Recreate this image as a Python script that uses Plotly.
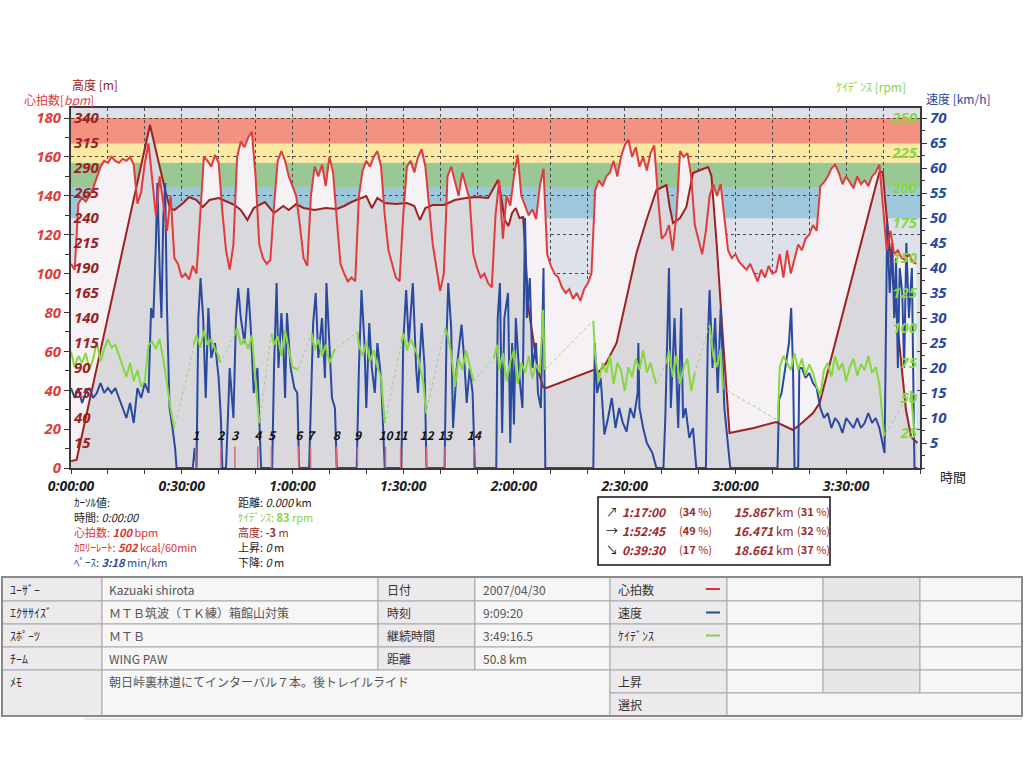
import plotly.graph_objects as go

# ---------------- data ----------------
hr_time = list(range(0, 230))
hr_bpm = [105, 102, 136, 139, 137, 140, 144, 150, 155, 158,
          157, 160, 158, 157, 159, 158, 160, 156, 136, 142,
          157, 167, 148, 130, 150, 135, 122, 140, 108, 105,
          98, 100, 97, 104, 100, 130, 160, 158, 155, 161,
          157, 132, 112, 102, 115, 160, 168, 165, 170, 173,
          150, 115, 108, 105, 107, 135, 158, 163, 158, 150,
          145, 140, 125, 108, 104, 140, 155, 150, 156, 145,
          160, 152, 128, 105, 100, 96, 98, 96, 140, 153,
          158, 155, 160, 163, 155, 130, 112, 105, 98, 96,
          130, 155, 158, 152, 160, 164, 155, 135, 115, 103,
          91, 100, 150, 155, 148, 140, 152, 145, 138, 110,
          103, 98, 100, 95, 93, 130, 148, 118, 140, 135,
          150, 161, 140, 135, 130, 133, 128, 145, 154, 110,
          104, 100, 98, 93, 90, 92, 87, 90, 86, 92,
          95, 100, 143, 148, 145, 150, 152, 158, 150, 160,
          166, 169, 160, 165, 155, 160, 153, 162, 166, 140,
          118, 120, 125, 112, 130, 163, 160, 162, 150, 125,
          118, 110, 122, 140, 146, 140, 146, 130, 112, 108,
          110, 106, 104, 102, 105, 100, 96, 102, 98, 104,
          100, 101, 110, 98, 112, 100, 108, 115, 112, 118,
          120, 125, 122, 145, 147, 150, 154, 156, 152, 146,
          150, 147, 144, 150, 146, 148, 145, 150, 152, 156,
          135, 112, 122, 110, 112, 108, 107, 110, 106, 105]

alt_time = [0, 1.5, 21.4, 22.5, 24, 25.5, 26.8, 28, 30.4, 32, 34, 35.7, 37.5, 40, 42.5, 44.3,
            46, 47.8, 49.5, 52.5, 55, 57.5, 59, 61, 63, 66, 69, 72, 74, 76, 78, 80, 81.5,
            83, 85, 88, 91, 93, 94.5, 96, 98, 101, 104, 107, 110, 113, 114.5, 115.7, 116.5,
            117.5, 118.5, 119.5, 120.5, 121.5, 122.5, 124, 126.5, 127.9, 128.8, 133, 137,
            141.5, 143, 145, 147.8, 150.5, 153.2, 155.9, 158.6, 161.3, 162.2, 163.1, 165,
            166.7, 168.5, 170.5, 172.6, 173.5, 174.9, 176.7, 178.4, 181, 185, 191, 193.8,
            195.6, 198, 201, 202.8, 219, 219.9, 220.8, 222.6, 224.4, 226.2, 227.6, 229.3]
alt_m = [-3, -2, 333, 315, 290, 268, 250, 248, 255, 261, 258, 251, 258, 260, 256, 253,
         248, 238, 250, 256, 245, 252, 248, 254, 250, 248, 250, 249, 252, 256, 259, 262, 250,
         260, 255, 254, 255, 252, 238, 250, 253, 253, 258, 260, 261, 260, 270, 278, 262,
         238, 232, 245, 250, 240, 241, 148, 88, 71, 70, 76, 82,
         88, 86, 95, 115, 161, 205, 238, 268, 273, 251, 235, 240,
         251, 285, 288, 291, 282, 215, 115, 25, 27, 30, 36, 31,
         28, 35, 45, 55, 286, 286, 248, 181, 115, 48, 21, 15]

spd_time = [0, 1, 2, 3, 4, 5, 6, 7, 8, 9, 10, 11, 12, 13, 14, 15, 16, 17, 18, 19, 20, 21,
            21.7, 22.3, 23, 23.4, 24, 24.5, 25, 25.5, 26, 26.7, 27.5, 28.2, 28.6, 33, 33.5, 34,
            34.5, 35.1, 35.8, 36.5, 37.2, 38, 39, 40, 40.6, 41, 42, 42.5, 43, 44, 44.7, 45.3,
            46, 47, 48, 48.7, 49.5, 50.5, 51.2, 51.5, 54.5, 55, 55.7, 56.2, 57, 57.5, 58, 58.5,
            59.5, 60.5, 61.3, 61.8, 64.5, 65, 65.6, 66.3, 67, 68, 68.8, 69.2, 70, 70.7, 71.5, 72,
            77.4, 78, 78.7, 79.5, 80, 80.8, 81.5, 82.3, 83, 84, 85, 89.5, 90, 90.8, 91.5, 92.6,
            93.5, 94, 95, 95.8, 96.3, 101.2, 101.7, 102.2, 103, 103.5, 104.5, 105.8, 106.5,
            107.2, 108, 108.8, 109.4, 115.2, 115.6, 116.2, 116.8, 117.4, 118.4, 119, 119.5, 120,
            120.5, 121.5, 122.3, 123, 123.5, 124.3, 125, 126, 126.5, 127.3, 128, 128.5, 141.5,
            141.9, 142.5, 143.5, 144.5, 145.5, 146.5, 147.5, 148.5, 149.5, 150.5, 151.5, 152.5,
            153.5, 153.7, 154, 155, 156, 157.5, 158.6, 160.5, 161, 162, 162.5, 163.5, 164.5,
            165.3, 165.8, 166.5, 167.5, 168.5, 169.4, 172, 172.5, 173, 173.8, 174.5, 175.2, 176,
            177, 178.6, 191.4, 191.8, 192.5, 193.5, 194.5, 195.1, 195.6, 196, 197, 197.3, 198,
            199, 200, 201, 202, 203, 204, 205, 206, 207, 208, 209, 210, 211, 212, 213, 214, 215,
            216, 217, 218, 219, 220.4, 221.1, 221.8, 222.5, 223, 223.5, 224, 224.5, 225.2,
            225.7, 226.3, 227, 227.8, 228.5, 229.3]
spd_kmh = [16, 14, 16, 13, 15, 16, 14, 15, 17, 15, 16, 15, 16, 14, 12, 10, 13, 9, 16, 14, 17, 15,
           32, 30, 45, 57, 40, 30, 50, 57, 32, 12, 8, 4, 0, 0, 4, 0,
           30, 38, 30, 14, 32, 22, 25, 18, 10, 0, 0, 12, 20, 10, 30, 36,
           30, 25, 36, 28, 15, 20, 4, 0, 0, 20, 37, 20, 31, 25, 14, 31,
           20, 16, 15, 0, 0, 15, 29, 35, 22, 30, 18, 37, 25, 14, 12, 0,
           0, 20, 35.6, 25, 12, 29, 20, 15, 25, 18, 0, 0, 25, 35.6, 25, 37,
           20, 15, 29, 20, 0, 0, 25, 37, 28, 8, 20, 28.7, 22,
           13, 20, 15, 0, 0, 30, 37, 7, 30, 35, 5, 25, 8.7,
           30, 18, 12, 50, 30, 38, 20, 25, 15, 12, 40, 0, 0,
           25, 15, 18, 6.7, 10, 14, 8, 12, 9, 7.3, 12, 10,
           15, 25, 12, 8, 5, 3, 0, 0, 10, 40, 12, 30, 8,
           32, 10, 12, 6, 8, 0, 0, 25, 35.6, 20, 30, 15, 32,
           12, 0, 0, 13.6, 15, 20, 25, 32, 20, 0, 0, 20, 20,
           18, 19, 17, 16, 12, 10, 11, 8, 10, 9, 7, 10, 9, 8, 10, 8, 9,
           11, 9, 10, 8, 3, 49, 35, 45, 30, 42, 20, 40, 35,
           20, 45, 30, 40, 0, 0]

cad_time = [0, 1, 2, 3, 4, 5, 6, 7, 8, 9, 10, 11, 12, 13, 14, 15, 16, 17, 18, 19, 20, 21, 22,
            23, 24, 25, 26, 27, 28, 28.5,
            33.2, 34, 35, 36, 37, 38, 39, 40, 40.4, 40.6,
            44.4, 45, 46, 47, 48, 49, 50, 51, 51.2,
            54.3, 55, 56, 57, 58, 59, 60, 61.5, 61.7,
            65.2, 66, 67, 68, 69, 70, 71.5, 71.9,
            77.6, 78, 79, 80, 81, 82, 83, 84, 85, 85.2,
            89.5, 90, 91, 92, 93, 94, 95.5, 96.2, 96.3,
            101.3, 102, 103, 104, 105, 106, 107, 108, 109, 109.4,
            114.5, 115.5, 116, 117, 118, 119, 120, 121, 122, 123, 124, 125, 126, 127, 127.9,
            128.3, 128.5,
            141.5, 142, 143, 144, 145, 146, 147, 148, 149, 150, 151, 152, 153, 154, 155, 156,
            157, 158.5, 158.8,
            161.3, 162, 163, 164, 165, 166, 167, 168, 169, 169.5,
            173, 174, 175, 176, 176.6, 176.8,
            191.5, 192, 193, 194, 195, 196, 197, 198, 199, 200, 201, 202, 203, 204, 205, 206,
            207, 208, 209, 210, 211, 212, 213, 214, 215, 216, 217, 218, 219, 220.3, 220.6,
            227.5, 228, 228.5]
cad_rpm = [83, 72, 80, 75, 82, 70, 78, 90, 76, 85, 92, 86, 88, 80, 72, 65, 75, 62, 70, 58, 62, 88, 90,
           85, 92, 78, 60, 42, 28, None,
           88, 95, 86, 98, 88, 92, 85, 80, 75, None,
           95, 100, 88, 92, 85, 95, 62, 32, None,
           96, 88, 94, 80, 98, 86, 72, 70, None,
           96, 84, 92, 80, 88, 75, 85, None,
           97, 88, 80, 90, 76, 84, 72, 65, 32, None,
           90, 96, 84, 92, 86, 80, 60, 39, None,
           100, 95, 82, 58, 78, 70, 84, 72, 62, None,
           78, 88, 70, 82, 62, 76, 84, 60, 75, 68, 80, 64, 74, 68, 113,
           70, None,
           105, 80, 62, 75, 68, 80, 60, 75, 70, 55, 72, 65, 78, 70, 84, 68,
           75, 60, None,
           75, 84, 65, 80, 60, 72, 78, 55, 68, None,
           102, 80, 72, 85, 57, None,
           34, 72, 80, 75, 70, 82, 70, 78, 66, 74, 68, 58, 52, 70, 75, 65,
           80, 70, 75, 62, 72, 78, 66, 74, 70, 80, 68, 72, 60, 23, None,
           55, 40, 25]

lap_time = [33.8, 40.6, 44.4, 50.6, 54.3, 61.7, 64.9, 71.9, 77.6, 85.2, 89.3, 96.3, 101.3, 109.1]
lap_label = ["1", "2", "3", "4", "5", "6", "7", "8", "9", "10", "11", "12", "13", "14"]

time_ticks = [0, 30, 60, 90, 120, 150, 180, 210]
time_labels = ["0:00:00", "0:30:00", "1:00:00", "1:30:00", "2:00:00", "2:30:00", "3:00:00", "3:30:00"]
hr_ticks = [0, 20, 40, 60, 80, 100, 120, 140, 160, 180]
alt_ticks = [15, 40, 65, 90, 115, 140, 165, 190, 215, 240, 265, 290, 315, 340]
cad_ticks = [25, 50, 75, 100, 125, 150, 175, 200, 225, 250]
spd_ticks = [5, 10, 15, 20, 25, 30, 35, 40, 45, 50, 55, 60, 65, 70]

zone_low = [128.5, 144.5, 157, 167]
zone_high = [144.5, 157, 167, 180]
zone_color = ["#9dc8dc", "#9ac894", "#fbe8a2", "#f49282"]

cursor_col1 = ["ｶｰｿﾙ値:", "時間: <i>0:00:00</i>", "心拍数: <b><i>100</i></b> bpm",
               "ｶﾛﾘｰﾚｰﾄ: <b><i>502</i></b> kcal/60min", "ﾍﾟｰｽ: <b><i>3:18</i></b> min/km"]
cursor_col1_color = ["#222222", "#222222", "#e03030", "#e03030", "#2a4a9a"]
cursor_col2 = ["距離: <i>0.000</i> km", "ｹｲﾃﾞﾝｽ: <b>83</b> rpm", "高度: <b>-3</b> m",
               "上昇: <i>0</i> m", "下降: <i>0</i> m"]
cursor_col2_color = ["#222222", "#86d040", "#a02828", "#222222", "#222222"]

stat_arrow = ["↗", "→", "↘"]
stat_time = ["1:17:00", "1:52:45", "0:39:30"]
stat_time_pct = ["34", "49", "17"]
stat_dist = ["15.867", "16.471", "18.661"]
stat_dist_pct = ["31", "32", "37"]

tbl_label1 = ["ﾕｰｻﾞｰ", "ｴｸｻｻｲｽﾞ", "ｽﾎﾟｰﾂ", "ﾁｰﾑ", "ﾒﾓ"]
tbl_value1 = ["Kazuaki shirota", "ＭＴＢ筑波（ＴＫ練）箱館山対策", "ＭＴＢ", "WING PAW",
              "朝日峠裏林道にてインターバル７本。後トレイルライド"]
tbl_label2 = ["日付", "時刻", "継続時間", "距離"]
tbl_value2 = ["2007/04/30", "9:09:20", "3:49:16.5", "50.8 km"]
tbl_label3 = ["心拍数", "速度", "ｹｲﾃﾞﾝｽ", "", "上昇", "選択"]
tbl_legend_color = ["#e03030", "#2a4a9a", "#86d040"]

# ---------------- layout helpers (pixel -> paper) ----------------
L, R, T, B = 71, 920, 108, 468
def px(x):
    return (x - L) / (R - L)
def py(y):
    return (B - y) / (B - T)

JP = "Noto Sans CJK JP, Noto Sans, sans-serif"
HR_C = "#e03c3c"
ALT_C = "#9c2222"
SPD_C = "#2a4a9f"
CAD_C = "#86d840"
GRID_DASH = "3px,3px"

fig = go.Figure()

# HR fill (base axis)
fig.add_trace(go.Scatter(x=hr_time, y=hr_bpm, mode="lines", line=dict(width=0),
                         fill="tozeroy", fillcolor="#f6f1f5", hoverinfo="skip", yaxis="y"))
# altitude
alt_floor = [-10 for _ in alt_time]
fig.add_trace(go.Scatter(x=alt_time, y=alt_floor, mode="lines", line=dict(width=0),
                         hoverinfo="skip", yaxis="y2"))
fig.add_trace(go.Scatter(x=alt_time, y=alt_m, mode="lines", line=dict(color=ALT_C, width=2),
                         fill="tonexty", fillcolor="#d9d8dc", yaxis="y2"))
# speed
fig.add_trace(go.Scatter(x=spd_time, y=spd_kmh, mode="lines", line=dict(color=SPD_C, width=2),
                         yaxis="y3"))
# cadence (dotted across gaps + solid)
fig.add_trace(go.Scatter(x=cad_time, y=cad_rpm, mode="lines", connectgaps=True,
                         line=dict(color="#9fcf7a", width=1, dash="dot"), yaxis="y4"))
fig.add_trace(go.Scatter(x=cad_time, y=cad_rpm, mode="lines", connectgaps=False,
                         line=dict(color=CAD_C, width=2), yaxis="y4"))
# HR line on top
fig.add_trace(go.Scatter(x=hr_time, y=hr_bpm, mode="lines", line=dict(color=HR_C, width=2),
                         yaxis="y5"))
# lap markers
lx, ly = [], []
for t in lap_time:
    lx += [t, t, None]
    ly += [0, 11, None]
fig.add_trace(go.Scatter(x=lx, y=ly, mode="lines", line=dict(color="#d86878", width=1.5),
                         yaxis="y5", hoverinfo="skip"))
fig.add_trace(go.Scatter(x=lap_time, y=[16 for _ in lap_time], mode="text", text=lap_label,
                         textfont=dict(family=JP, size=12, color="#111111", style="italic", weight="bold"),
                         yaxis="y5", hoverinfo="skip"))

shapes = []
for lo, hi, c in zip(zone_low, zone_high, zone_color):
    shapes.append(dict(type="rect", xref="x domain", yref="y", x0=0, x1=1, y0=lo, y1=hi,
                       fillcolor=c, line=dict(width=0), layer="below"))

annotations = []
def txt(x, y, s, color="#222222", size=12, anchor="left", yanchor="middle", **kw):
    annotations.append(dict(xref="paper", yref="paper", x=px(x), y=py(y), text=s, showarrow=False,
                            xanchor=anchor, yanchor=yanchor,
                            font=dict(family=JP, size=size, color=color, **kw)))

# axis titles
txt(70, 84, "高度 [m]", ALT_C, 12)
txt(22, 99, "心拍数[<i>bpm</i>]", HR_C, 12)
txt(834, 86, "ｹｲﾃﾞﾝｽ [rpm]", CAD_C, 12)
txt(924, 98, "速度 [km/h]", SPD_C, 12)
txt(938, 476, "時間", "#222222", 13)

# cursor info
for i, (s, c) in enumerate(zip(cursor_col1, cursor_col1_color)):
    txt(72, 502 + 15 * i, s, c, 11)
for i, (s, c) in enumerate(zip(cursor_col2, cursor_col2_color)):
    txt(236, 502 + 15 * i, s, c, 11)

# stats box
shapes.append(dict(type="rect", xref="paper", yref="paper", x0=px(598), x1=px(830),
                   y0=py(497), y1=py(565), fillcolor="white", line=dict(color="#111111", width=1.5)))
for i in range(3):
    yy = 511 + 19 * i
    txt(604, yy, stat_arrow[i], "#111111", 12)
    txt(620, yy, "<b><i>" + stat_time[i] + "</i></b>", "#a02828", 12)
    txt(677, yy, "(<b>" + stat_time_pct[i] + "</b> %)", "#a02828", 11)
    txt(732, yy, "<b><i>" + stat_dist[i] + "</i></b> km", "#a02828", 12)
    txt(795, yy, "(<b>" + stat_dist_pct[i] + "</b> %)", "#a02828", 11)

# table
cols = [2, 102, 378, 475, 610, 727, 823, 920, 1022]
rows = [577, 601, 624, 647, 670, 693, 716]
LAB = "#eceaec"
VAL = "#f6f6f6"
MID = "#e8e6e8"
GRID = "#a8a8a8"
def cell(x0, x1, y0, y1, color):
    shapes.append(dict(type="rect", xref="paper", yref="paper", x0=px(x0), x1=px(x1),
                       y0=py(y0), y1=py(y1), fillcolor=color, line=dict(color=GRID, width=1)))
for r in range(4):
    cell(cols[0], cols[1], rows[r], rows[r + 1], LAB)
    cell(cols[1], cols[2], rows[r], rows[r + 1], VAL)
    cell(cols[2], cols[3], rows[r], rows[r + 1], LAB)
    cell(cols[3], cols[4], rows[r], rows[r + 1], VAL)
cell(cols[0], cols[1], rows[4], rows[6], LAB)
cell(cols[1], cols[4], rows[4], rows[6], VAL)
for r in range(5):
    cell(cols[4], cols[5], rows[r], rows[r + 1], LAB)
    cell(cols[5], cols[6], rows[r], rows[r + 1], VAL)
    cell(cols[6], cols[7], rows[r], rows[r + 1], MID)
    cell(cols[7], cols[8], rows[r], rows[r + 1], VAL)
cell(cols[4], cols[5], rows[5], rows[6], LAB)
cell(cols[5], cols[8], rows[5], rows[6], VAL)
shapes.append(dict(type="rect", xref="paper", yref="paper", x0=px(2), x1=px(1022),
                   y0=py(577), y1=py(716), line=dict(color="#8a8a8a", width=2)))
shapes.append(dict(type="line", xref="paper", yref="paper", x0=px(84), x1=px(1022),
                   y0=py(719), y1=py(719), line=dict(color="#d0d0d0", width=1)))

for r in range(4):
    yy = (rows[r] + rows[r + 1]) / 2
    txt(8, yy, tbl_label1[r], "#333333", 12)
    txt(107, yy, tbl_value1[r], "#555555", 12)
    txt(385, yy, tbl_label2[r], "#333333", 12)
    txt(481, yy, tbl_value2[r], "#555555", 12)
txt(8, 681, tbl_label1[4], "#333333", 12)
txt(107, 681, tbl_value1[4], "#555555", 12)
for r in range(6):
    yy = (rows[r] + rows[r + 1]) / 2
    if tbl_label3[r]:
        txt(616, yy, tbl_label3[r], "#333333", 12)
for r, c in enumerate(tbl_legend_color):
    yy = (rows[r] + rows[r + 1]) / 2
    shapes.append(dict(type="line", xref="paper", yref="paper", x0=px(706), x1=px(720),
                       y0=py(yy), y1=py(yy), line=dict(color=c, width=2)))

num_font = dict(family="Noto Sans, sans-serif", size=15, style="italic", weight="bold")

fig.update_layout(
    width=1024, height=768,
    margin=dict(l=L, r=1024 - R, t=T, b=768 - B),
    paper_bgcolor="white", plot_bgcolor="#dde2ea",
    showlegend=False,
    font=dict(family=JP),
    shapes=shapes, annotations=annotations,
    xaxis=dict(range=[0, 230], tickvals=time_ticks, ticktext=time_labels,
               ticks="outside", ticklen=4, tickcolor="#333333", ticklabeloverflow="allow",
               showgrid=True, gridcolor="#4a4a4a", griddash=GRID_DASH, gridwidth=1,
               minor=dict(dtick=10, tick0=0, ticks="outside", ticklen=4, tickcolor="#333333",
                          showgrid=True, gridcolor="#4a4a4a", griddash=GRID_DASH, gridwidth=1),
               showline=True, linecolor="#3a3a3a", linewidth=2, mirror=True, zeroline=False,
               tickfont=dict(family="Noto Sans, sans-serif", size=14, color="#222222", style="italic",
                             weight="bold")),
    yaxis=dict(range=[0, 185.2], tickvals=hr_ticks, ticks="outside", ticklen=5, tickcolor="#333333",
               minor=dict(dtick=10, ticks="outside", ticklen=4, tickcolor="#333333"),
               showgrid=True, gridcolor="#4a4a4a", griddash=GRID_DASH, gridwidth=1, zeroline=False,
               showline=True, linecolor="#3a3a3a", linewidth=2, mirror=True, ticklabeloverflow="allow",
               tickfont=dict(color=HR_C, **num_font)),
    yaxis2=dict(range=[-10, 350], overlaying="y", side="left", tickvals=alt_ticks,
                ticklabelposition="inside", ticks="", showgrid=False, zeroline=False,
                ticklabeloverflow="allow",
                tickfont=dict(color=ALT_C, **num_font)),
    yaxis3=dict(range=[0, 72], overlaying="y", side="right", anchor="x", tickvals=spd_ticks,
                ticks="outside", ticklen=5, tickcolor="#333333", ticklabeloverflow="allow",
                minor=dict(dtick=2.5, ticks="outside", ticklen=3, tickcolor="#333333"),
                showgrid=False, zeroline=False, showline=True, linecolor="#3a3a3a", linewidth=2,
                tickfont=dict(color=SPD_C, **num_font)),
    yaxis4=dict(range=[0, 257], overlaying="y", side="right", anchor="x", tickvals=cad_ticks,
                ticklabelposition="inside", ticks="", showgrid=False, zeroline=False,
                ticklabeloverflow="allow",
                tickfont=dict(color=CAD_C, **num_font)),
    yaxis5=dict(range=[0, 185.2], overlaying="y", visible=False),
)

fig.write_html("out.html", config={"displayModeBar": False},
               post_script="document.body.style.margin='0px';")
